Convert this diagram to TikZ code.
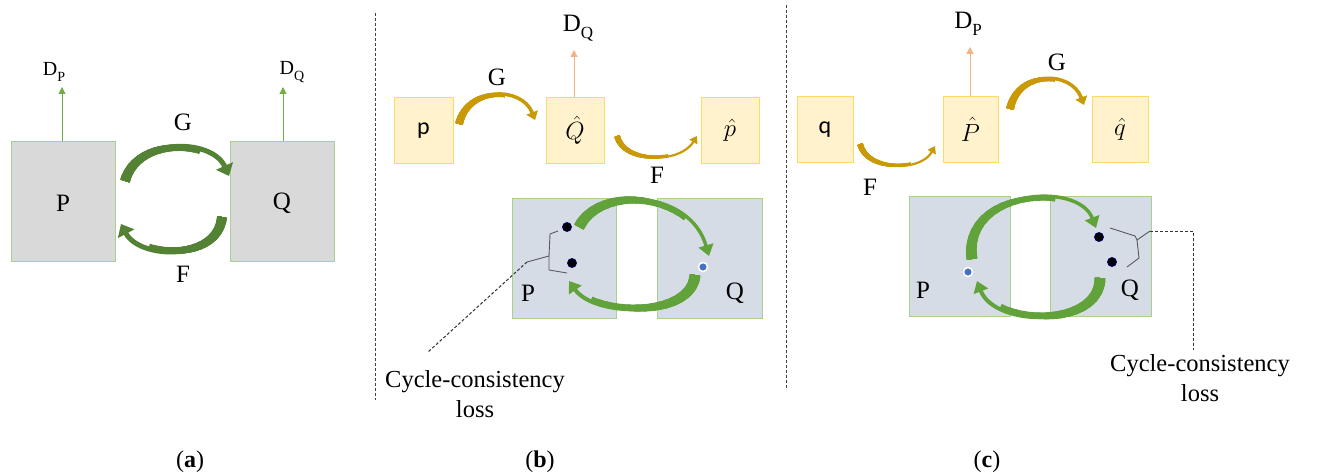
\documentclass[tikz,border=0pt]{standalone}
\usepackage{fontspec}
\setmainfont{Liberation Serif}
\newfontfamily\calib{Carlito}
\usetikzlibrary{arrows.meta}
\definecolor{grayfill}{HTML}{D9D9D9}
\definecolor{boxgreen}{HTML}{A9D18E}
\definecolor{yelfill}{HTML}{FFF2CC}
\definecolor{yelline}{HTML}{FFD966}
\definecolor{bluefill}{HTML}{D6DCE5}
\definecolor{arrgreen}{HTML}{62A23A}
\definecolor{darkgreen}{HTML}{548235}
\definecolor{goldarr}{HTML}{C99A06}
\definecolor{salmon}{HTML}{F4B183}
\definecolor{lightgreen}{HTML}{70AD47}
\definecolor{dotblue}{HTML}{4472C4}
\definecolor{bracegray}{HTML}{595959}
% tapered curved arrow: #1 colour, #2 tail width, #3 end width, #4 taper length, #5 tip, #6 path
\newcommand{\taperarrow}[6]{%
  \foreach \k in {1,...,16}{%
    \pgfmathsetmacro\ww{#3+(#2-#3)*(17-\k)/16}%
    \pgfmathsetmacro\ll{#4*\k/16}%
    \draw[draw=#1, line width=\ww pt, dash pattern=on \ll pt off 3000pt] #6;%
  }%
  \draw[draw=#1, line width=#3pt, #5] #6;%
}
\tikzset{
  lbl/.style={font=\fontsize{25}{28}\selectfont, inner sep=0pt},
  dlbl/.style={font=\fontsize{20}{24}\selectfont, inner sep=0pt},
  dlblbig/.style={font=\fontsize{25}{28}\selectfont, inner sep=0pt},
  graybox/.style={draw=boxgreen, fill=grayfill, line width=1pt, minimum width=104pt, minimum height=119pt, inner sep=0pt},
  bluebox/.style={draw=boxgreen, fill=bluefill, line width=1pt, minimum height=120pt, inner sep=0pt},
  yelbox/.style={draw=yelline, fill=yelfill, line width=1pt, minimum height=65pt, inner sep=0pt, font=\fontsize{24}{28}\selectfont},
  hatlbl/.style={font=\fontsize{28}{30}\selectfont, inner sep=0pt},
  darr/.style={line width=1pt, -{Triangle[width=7pt,length=7pt]}},
  bigtip/.style={-{Triangle[width=18pt,length=11pt]}},
  cyctip/.style={-{Triangle[width=15pt,length=11pt]}},
  goldgtip/.style={-{Triangle[width=12pt,length=8pt]}},
  goldftip/.style={-{Triangle[width=9pt,length=7pt]}},
  bdot/.style={circle, fill=black, draw=blue!40!black, line width=0.8pt, minimum size=9pt, inner sep=0pt},
  udot/.style={circle, fill=dotblue, draw=white, line width=1.5pt, minimum size=9pt, inner sep=0pt},
  sep/.style={draw=black!75, line width=1pt, dash pattern=on 3pt off 2pt},
  bracel/.style={draw=bracegray, line width=0.9pt, line join=round},
  lossline/.style={draw=black!80, line width=1pt, dash pattern=on 3pt off 2pt},
  captxt/.style={font=\fontsize{24}{28}\selectfont, inner sep=0pt},
  losstext/.style={font=\fontsize{24.5}{30}\selectfont, align=center, inner sep=0pt}
}
\begin{document}
\begin{tikzpicture}[x=1pt, y=-1pt]
\useasboundingbox[fill=white] (0,0) rectangle (1322,476);

% separators
\draw[sep] (375,13) -- (375,400);
\draw[sep] (786,5) -- (786,390);

% ---------- panel (a)
\node[graybox] (Pa) at (63,201.5) {};
\node[graybox] (Qa) at (282,201.5) {};
\node[lbl] (Pal) at (63,203) {P};
\node[lbl] (Qal) at (282,203) {Q};
\node[dlbl] (DPa) at (54,72) {D\raisebox{-0.3em}{\fontsize{14}{14}\selectfont P}};
\node[dlbl] (DQa) at (292,72) {D\raisebox{-0.3em}{\fontsize{14}{14}\selectfont Q}};
\coordinate (dpa) at (62,87);
\coordinate (dqa) at (283,87);
\draw[darr, draw=lightgreen, fill=lightgreen] (Pa.north -| dpa) -- (dpa);
\draw[darr, draw=lightgreen, fill=lightgreen] (Qa.north -| dqa) -- (dqa);
\node[lbl] (Ga) at (183,122) {G};
\node[lbl] (Fa) at (183,274) {F};
\coordinate (ga1) at (125,181);
\coordinate (ga2) at (229,176);
\coordinate (fa1) at (222,217);
\coordinate (fa2) at (121,224);
\taperarrow{darkgreen}{10}{5}{90}{bigtip}{(ga1) .. controls (137,137) and (212,138) .. (ga2)}
\taperarrow{darkgreen}{10}{5}{90}{bigtip}{(fa1) .. controls (218,261) and (140,260) .. (fa2)}

% ---------- panel (b)
\node[yelbox, minimum width=59pt] (pb) at (423.5,130.5) {\calib p};
\node[yelbox, minimum width=58pt] (Qhb) at (575,130.5) {};
\node[yelbox, minimum width=58pt] (phb) at (730,130.5) {};
\node[hatlbl] (Qhbl) at (Qhb) {$\hat{Q}$};
\node[hatlbl] (phbl) at (phb) {$\hat{p}$};
\node[dlblbig] (DQb) at (578,28) {D\raisebox{-0.3em}{\fontsize{17}{17}\selectfont Q}};
\coordinate (dqb) at (574,50);
\draw[darr, draw=salmon, fill=salmon] (Qhb.north -| dqb) -- (dqb);
\node[lbl] (Gb) at (497,77) {G};
\node[lbl] (Fb) at (657,175) {F};
\coordinate (gb1) at (459,124);
\coordinate (gb2) at (535,120);
\coordinate (fb1) at (617,136);
\coordinate (fb2) at (697,136);
\taperarrow{goldarr}{8}{3.5}{60}{goldgtip}{(gb1) .. controls (468,86) and (522,86) .. (gb2)}
\taperarrow{goldarr}{6}{2.2}{60}{goldftip}{(fb1) .. controls (624,164) and (680,164) .. (fb2)}

\node[bluebox, minimum width=104pt] (Pb) at (564,258) {};
\node[bluebox, minimum width=105pt] (Qb) at (709.5,258) {};
\node[lbl] (Pbl) at (528,293) {P};
\node[lbl] (Qbl) at (735,293) {Q};
\coordinate (cb1) at (579,227);
\coordinate (cb2) at (709,256);
\coordinate (cb3) at (695,275);
\coordinate (cb4) at (569,281);
\taperarrow{arrgreen}{11}{3.5}{120}{cyctip}{(cb1) .. controls (600,185) and (690,190) .. (cb2)}
\taperarrow{arrgreen}{11}{4}{120}{cyctip}{(cb3) .. controls (692,318) and (595,318) .. (cb4)}
\node[bdot] (db1) at (567,227) {};
\node[bdot] (db2) at (572,263) {};
\node[udot] (ub) at (703,267) {};
\coordinate (braceb) at (527,262);
\draw[bracel] (558,231) -- (550,234) -- (549,256) -- (braceb);
\draw[bracel] (549,256) -- (549,270) -- (567,273);
\node[losstext] (lossb) at (475,394) {Cycle-consistency\\loss};
\coordinate (lb) at (428,352);
\draw[lossline] (braceb) -- (lb);

% ---------- panel (c)
\node[yelbox, minimum width=56pt] (qc) at (825,129.5) {\calib q};
\node[yelbox, minimum width=55pt] (Phc) at (970.5,129.5) {};
\node[yelbox, minimum width=56pt] (qhc) at (1120,129.5) {};
\node[hatlbl] (Phcl) at (Phc) {$\hat{P}$};
\node[hatlbl] (qhcl) at (qhc) {$\hat{q}$};
\node[dlblbig] (DPc) at (968,24) {D\raisebox{-0.3em}{\fontsize{17}{17}\selectfont P}};
\coordinate (dpc) at (970,47);
\draw[darr, draw=salmon, fill=salmon] (Phc.north -| dpc) -- (dpc);
\node[lbl] (Gc) at (1057,62) {G};
\node[lbl] (Fc) at (870,187) {F};
\coordinate (gc1) at (1010,109);
\coordinate (gc2) at (1084,105);
\coordinate (fc1) at (860,144);
\coordinate (fc2) at (935,146);
\taperarrow{goldarr}{8}{3.5}{60}{goldgtip}{(gc1) .. controls (1018,70) and (1071,70) .. (gc2)}
\taperarrow{goldarr}{6}{2.2}{60}{goldftip}{(fc1) .. controls (867,172) and (921,172) .. (fc2)}

\node[bluebox, minimum width=101pt] (Pc) at (959.5,256) {};
\node[bluebox, minimum width=101pt] (Qc) at (1100.5,256) {};
\node[lbl] (Pcl) at (923,290) {P};
\node[lbl] (Qcl) at (1130,290) {Q};
\coordinate (cc1) at (972,259);
\coordinate (cc2) at (1096,228);
\coordinate (cc3) at (1100,278);
\coordinate (cc4) at (977,281);
\taperarrow{arrgreen}{11}{3.5}{120}{cyctip}{(cc1) .. controls (962,190) and (1078,180) .. (cc2)}
\taperarrow{arrgreen}{11}{4}{120}{cyctip}{(cc3) .. controls (1100,328) and (995,328) .. (cc4)}
\node[udot] (uc) at (968,272) {};
\node[bdot] (dc1) at (1099,237) {};
\node[bdot] (dc2) at (1112,262) {};
\coordinate (bracec) at (1150,231);
\draw[bracel] (1110,228) -- (1135,236) -- (1137,240) -- (bracec);
\draw[bracel] (1137,240) -- (1139,258) -- (1127,267);
\node[losstext] (lossc) at (1200,378) {Cycle-consistency\\loss};
\coordinate (lc1) at (1193,231);
\coordinate (lc2) at (1193,350);
\draw[lossline] (bracec) -- (lc1) -- (lc2);

% captions
\node[captxt] (capa) at (190,462) {(\textbf{a})};
\node[captxt] (capb) at (540,462) {(\textbf{b})};
\node[captxt] (capc) at (987,462) {(\textbf{c})};
\end{tikzpicture}
\end{document}
